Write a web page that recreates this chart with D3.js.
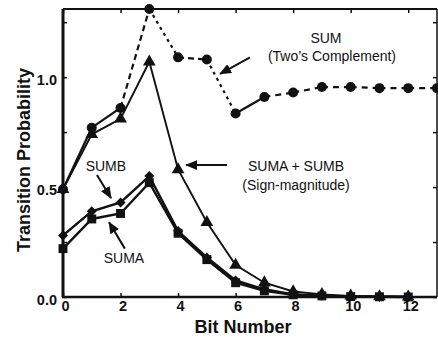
<!DOCTYPE html>
<html lang="en">
<head>
<meta charset="utf-8">
<script src="https://d3js.org/d3.v7.min.js" charset="utf-8"></script>
<style>
body { margin: 0; background: #fff; }
svg text { font-family: "Liberation Sans", Arial, Helvetica, sans-serif; fill: #111; }
.tick text { font-weight: bold; font-size: 14.5px; }
.tick line { stroke: #111; stroke-width: 1.5; }
.domain { display: none; }
</style>
</head>
<body>
<div id="chart"></div>
<script>

// bit positions
var bitsSum = [0, 1, 2, 3, 4, 5, 6, 7, 8, 9, 10, 11, 12, 13];
var bits    = [0, 1, 2, 3, 4, 5, 6, 7, 8, 9, 10, 11, 12];

// SUM (two's complement) - circles, dashed
var sumTwos = [0.49, 0.77, 0.86, 1.31, 1.09, 1.08, 0.835, 0.91, 0.93, 0.955, 0.955, 0.95, 0.95, 0.95];
// SUMA + SUMB (sign-magnitude) - triangles
var sumAB   = [0.49, 0.74, 0.81, 1.07, 0.58, 0.34, 0.145, 0.065, 0.025, 0.012, 0.005, 0.002, 0.001];
// SUMB - diamonds
var sumB    = [0.28, 0.39, 0.43, 0.55, 0.30, 0.18, 0.075, 0.035, 0.012, 0.006, 0.003, 0.001, 0.001];
// SUMA - squares
var sumA    = [0.22, 0.355, 0.38, 0.52, 0.29, 0.17, 0.065, 0.028, 0.010, 0.005, 0.002, 0.001, 0.0];

var xTicks = [0, 2, 4, 6, 8, 10, 12];
var yTicks = [0, 0.25, 0.5, 0.75, 1.0, 1.25];
var yLabelled = [0, 0.5, 1.0];

// dash style of each SUM segment (scanned original mixes them)
var sumDash = ["none", "none", "6,4", "3,4", "6,4", "3,4", "none", "6,5", "6,5", "6,5", "6,5", "6,5", "6,5"];

var width = 438, height = 337;
var x = d3.scaleLinear().domain([0, 13]).range([63, 437]);
var y = d3.scaleLinear().domain([0, 1.31]).range([297, 9]);

var svg = d3.select("#chart").append("svg")
    .attr("width", width)
    .attr("height", height);

// arrow head
svg.append("defs").append("marker")
    .attr("id", "head")
    .attr("viewBox", "0 0 12 10")
    .attr("refX", 11)
    .attr("refY", 5)
    .attr("markerWidth", 12)
    .attr("markerHeight", 10)
    .attr("markerUnits", "userSpaceOnUse")
    .attr("orient", "auto")
  .append("path")
    .attr("d", "M0,0 L12,5 L0,10 Z")
    .attr("fill", "#111");

// axes (ticks point inwards)
svg.append("g")
    .attr("transform", "translate(0,297)")
    .call(d3.axisBottom(x).tickValues(xTicks).tickSize(-4).tickPadding(4).tickFormat(d3.format("d")))
    .selectAll("text").attr("dx", 2);

svg.append("g")
    .attr("transform", "translate(0,9)")
    .call(d3.axisTop(x).tickValues(xTicks).tickSize(-4).tickFormat(""));

svg.append("g")
    .attr("transform", "translate(63,0)")
    .call(d3.axisLeft(y).tickValues(yTicks).tickSize(-4).tickPadding(6)
      .tickFormat(function(d) { return yLabelled.indexOf(d) >= 0 ? d3.format(".1f")(d) : ""; }))
    .selectAll("text").attr("dy", "0.5em");

svg.append("g")
    .attr("transform", "translate(437,0)")
    .call(d3.axisRight(y).tickValues(yTicks).tickSize(-4).tickFormat(""));

// frame
var frame = svg.append("g").attr("stroke", "#111").attr("fill", "none");
frame.append("line").attr("x1", x(0)).attr("x2", x(0)).attr("y1", y(1.31)).attr("y2", y(0)).attr("stroke-width", 3);
frame.append("line").attr("x1", x(0) - 1).attr("x2", x(13)).attr("y1", y(0)).attr("y2", y(0)).attr("stroke-width", 2.5);
frame.append("line").attr("x1", x(0)).attr("x2", x(13)).attr("y1", y(1.31)).attr("y2", y(1.31)).attr("stroke-width", 2);
frame.append("line").attr("x1", x(13)).attr("x2", x(13)).attr("y1", y(1.31)).attr("y2", y(0)).attr("stroke-width", 1.5);

// axis titles
svg.append("text")
    .attr("transform", "translate(30,160) rotate(-90)")
    .attr("text-anchor", "middle")
    .style("font-size", "18px")
    .style("font-weight", "bold")
    .text("Transition Probability");

svg.append("text")
    .attr("x", 243)
    .attr("y", 333)
    .attr("text-anchor", "middle")
    .style("font-size", "18px")
    .style("font-weight", "bold")
    .text("Bit Number");

// lines
var line = d3.line()
    .x(function(d) { return x(d[0]); })
    .y(function(d) { return y(d[1]); });

function pairs(xs, ys) { return xs.map(function(b, i) { return [b, ys[i]]; }); }

var ptsSum = pairs(bitsSum, sumTwos);
var ptsAB = pairs(bits, sumAB);
var ptsB = pairs(bits, sumB);
var ptsA = pairs(bits, sumA);

svg.append("path").datum(ptsA).attr("d", line)
    .attr("fill", "none").attr("stroke", "#111").attr("stroke-width", 2.4);
svg.append("path").datum(ptsB).attr("d", line)
    .attr("fill", "none").attr("stroke", "#111").attr("stroke-width", 2.4);
svg.append("path").datum(ptsAB).attr("d", line)
    .attr("fill", "none").attr("stroke", "#111").attr("stroke-width", 1.9);

svg.append("g").selectAll("path")
    .data(d3.pairs(ptsSum))
    .join("path")
    .attr("d", function(d) { return line(d); })
    .attr("fill", "none")
    .attr("stroke", "#111")
    .attr("stroke-width", 2.2)
    .attr("stroke-dasharray", function(d, i) { return sumDash[i]; });

// markers
function symbols(pts, type, size, rot) {
  svg.append("g").selectAll("path")
    .data(pts)
    .join("path")
    .attr("d", d3.symbol().type(type).size(size))
    .attr("transform", function(d) { return "translate(" + x(d[0]) + "," + y(d[1]) + ") rotate(" + rot + ")"; })
    .attr("fill", "#111");
}
symbols(ptsA, d3.symbolSquare, 80, 0);
symbols(ptsB, d3.symbolSquare, 50, 45);
symbols(ptsAB, d3.symbolTriangle, 70, 0);

svg.append("g").selectAll("circle")
    .data(ptsSum)
    .join("circle")
    .attr("cx", function(d) { return x(d[0]); })
    .attr("cy", function(d) { return y(d[1]); })
    .attr("r", 5)
    .attr("fill", "#111");

// annotations (data units)
var notes = [
  { text: "SUM", bx: 9.14, by: 1.155 },
  { text: "(Two\u2019s Complement)", bx: 9.35, by: 1.073 },
  { text: "SUMA + SUMB", bx: 8.1, by: 0.575 },
  { text: "(Sign-magnitude)", bx: 8.1, by: 0.485 },
  { text: "SUMB", bx: 1.49, by: 0.573 },
  { text: "SUMA", bx: 2.12, by: 0.155 }
];
var arrows = [
  { x1: 6.5, y1: 1.09, x2: 5.46, y2: 1.015 },
  { x1: 5.7, y1: 0.60, x2: 4.28, y2: 0.60 },
  { x1: 1.18, y1: 0.555, x2: 1.67, y2: 0.45 },
  { x1: 2.15, y1: 0.22, x2: 1.6, y2: 0.34 }
];

svg.append("g").selectAll("text")
    .data(notes)
    .join("text")
    .attr("x", function(d) { return x(d.bx); })
    .attr("y", function(d) { return y(d.by); })
    .attr("text-anchor", "middle")
    .style("font-size", "14px")
    .text(function(d) { return d.text; });

svg.append("g").selectAll("line")
    .data(arrows)
    .join("line")
    .attr("x1", function(d) { return x(d.x1); })
    .attr("y1", function(d) { return y(d.y1); })
    .attr("x2", function(d) { return x(d.x2); })
    .attr("y2", function(d) { return y(d.y2); })
    .attr("stroke", "#111")
    .attr("stroke-width", 2)
    .attr("marker-end", "url(#head)");

</script>
</body>
</html>
